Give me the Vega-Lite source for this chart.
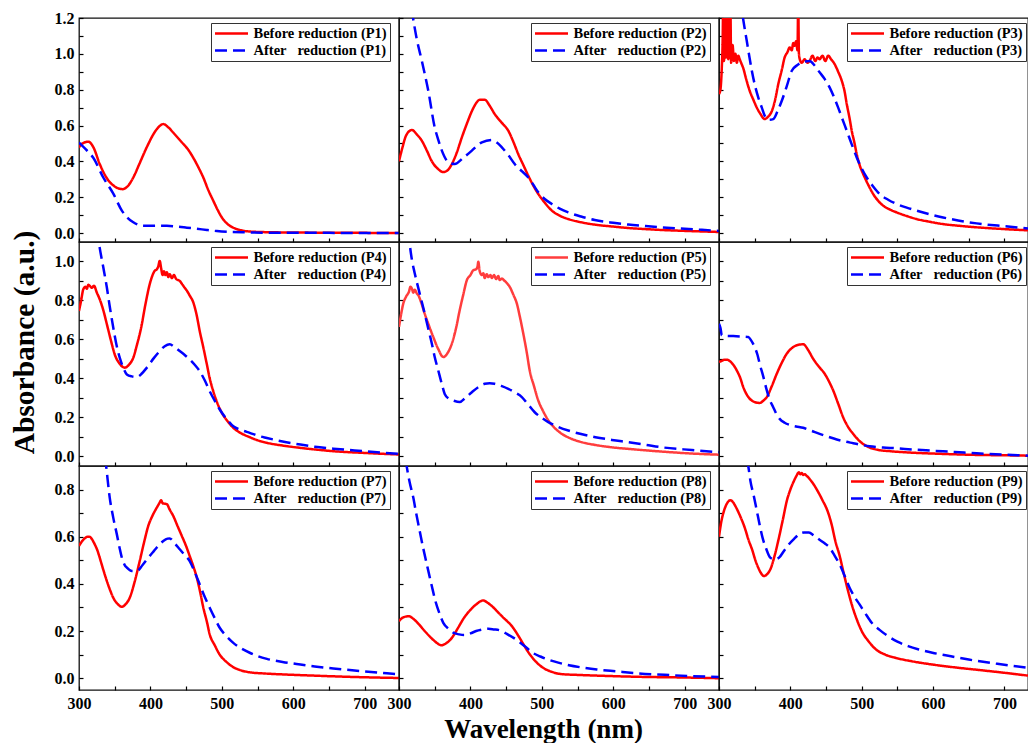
{
  "$schema": "https://vega.github.io/schema/vega-lite/v6.json",
  "padding": {"left": 8, "top": 9, "right": 0, "bottom": 0},
  "background": "white",
  "config": {
    "font": "Liberation Serif",
    "view": {"stroke": "#111", "strokeWidth": 1.3},
    "axis": {
      "grid": false, "domain": false, "tickSize": -4, "tickColor": "#000", "tickWidth": 1.2,
      "labelFont": "Liberation Serif", "labelFontSize": 16, "labelFontWeight": "bold", "labelColor": "#000",
      "labelPadding": 9, "labelOverlap": false, "labelFlush": false,
      "titleFont": "Liberation Serif", "titleFontSize": 27, "titleFontWeight": "bold", "titleColor": "#000"
    },
    "legend": {
      "labelFont": "Liberation Serif", "labelFontSize": 14.5, "labelFontWeight": "bold", "labelColor": "#000",
      "strokeColor": "#333", "fillColor": "#fff", "padding": 2.5, "rowPadding": 1, "clipHeight": 16,
      "symbolType": "stroke", "symbolSize": 1089, "symbolStrokeWidth": 2.5, "labelOffset": 4, "cornerRadius": 0
    }
  },
  "datasets": {
    "p1": [
      {"series":"Before","nm":300,"abs":0.478},{"series":"Before","nm":305,"abs":0.50},{"series":"Before","nm":313,"abs":0.51},{"series":"Before","nm":320,"abs":0.48},{"series":"Before","nm":329,"abs":0.385},{"series":"Before","nm":340,"abs":0.30},{"series":"Before","nm":350,"abs":0.26},{"series":"Before","nm":361,"abs":0.245},{"series":"Before","nm":370,"abs":0.27},{"series":"Before","nm":376,"abs":0.31},{"series":"Before","nm":385,"abs":0.39},{"series":"Before","nm":395,"abs":0.48},{"series":"Before","nm":409,"abs":0.58},{"series":"Before","nm":418,"abs":0.608},{"series":"Before","nm":425,"abs":0.59},{"series":"Before","nm":432,"abs":0.56},{"series":"Before","nm":444,"abs":0.506},{"series":"Before","nm":452,"abs":0.47},{"series":"Before","nm":460,"abs":0.42},{"series":"Before","nm":468,"abs":0.36},{"series":"Before","nm":474,"abs":0.31},{"series":"Before","nm":481,"abs":0.24},{"series":"Before","nm":488,"abs":0.18},{"series":"Before","nm":494,"abs":0.13},{"series":"Before","nm":500,"abs":0.087},{"series":"Before","nm":508,"abs":0.05},{"series":"Before","nm":516,"abs":0.03},{"series":"Before","nm":525,"abs":0.017},{"series":"Before","nm":535,"abs":0.01},{"series":"Before","nm":560,"abs":0.005},{"series":"Before","nm":600,"abs":0.003},{"series":"Before","nm":700,"abs":0.001},{"series":"Before","nm":748,"abs":0.0},
      {"series":"After","nm":300,"abs":0.505},{"series":"After","nm":310,"abs":0.465},{"series":"After","nm":320,"abs":0.42},{"series":"After","nm":334,"abs":0.31},{"series":"After","nm":348,"abs":0.22},{"series":"After","nm":360,"abs":0.125},{"series":"After","nm":368,"abs":0.085},{"series":"After","nm":376,"abs":0.06},{"series":"After","nm":390,"abs":0.04},{"series":"After","nm":405,"abs":0.04},{"series":"After","nm":423,"abs":0.04},{"series":"After","nm":440,"abs":0.035},{"series":"After","nm":451,"abs":0.03},{"series":"After","nm":465,"abs":0.024},{"series":"After","nm":479,"abs":0.017},{"series":"After","nm":493,"abs":0.011},{"series":"After","nm":507,"abs":0.007},{"series":"After","nm":530,"abs":0.004},{"series":"After","nm":560,"abs":0.002},{"series":"After","nm":650,"abs":0.001},{"series":"After","nm":748,"abs":0.0}
    ],
    "p2": [
      {"series":"Before","nm":300,"abs":0.40},{"series":"Before","nm":305,"abs":0.48},{"series":"Before","nm":310,"abs":0.545},{"series":"Before","nm":318,"abs":0.575},{"series":"Before","nm":325,"abs":0.55},{"series":"Before","nm":332,"abs":0.515},{"series":"Before","nm":339,"abs":0.46},{"series":"Before","nm":346,"abs":0.40},{"series":"Before","nm":354,"abs":0.36},{"series":"Before","nm":362,"abs":0.34},{"series":"Before","nm":368,"abs":0.35},{"series":"Before","nm":374,"abs":0.385},{"series":"Before","nm":381,"abs":0.45},{"series":"Before","nm":388,"abs":0.534},{"series":"Before","nm":395,"abs":0.61},{"series":"Before","nm":402,"abs":0.68},{"series":"Before","nm":408,"abs":0.725},{"series":"Before","nm":413,"abs":0.744},{"series":"Before","nm":420,"abs":0.744},{"series":"Before","nm":427,"abs":0.71},{"series":"Before","nm":434,"abs":0.664},{"series":"Before","nm":444,"abs":0.615},{"series":"Before","nm":453,"abs":0.571},{"series":"Before","nm":460,"abs":0.51},{"series":"Before","nm":467,"abs":0.44},{"series":"Before","nm":474,"abs":0.38},{"series":"Before","nm":481,"abs":0.32},{"series":"Before","nm":488,"abs":0.265},{"series":"Before","nm":495,"abs":0.218},{"series":"Before","nm":504,"abs":0.17},{"series":"Before","nm":514,"abs":0.125},{"series":"Before","nm":525,"abs":0.097},{"series":"Before","nm":537,"abs":0.078},{"series":"Before","nm":555,"abs":0.06},{"series":"Before","nm":574,"abs":0.047},{"series":"Before","nm":600,"abs":0.036},{"series":"Before","nm":621,"abs":0.028},{"series":"Before","nm":645,"abs":0.022},{"series":"Before","nm":668,"abs":0.017},{"series":"Before","nm":700,"abs":0.012},{"series":"Before","nm":748,"abs":0.006},
      {"series":"After","nm":300,"abs":1.75},{"series":"After","nm":310,"abs":1.45},{"series":"After","nm":318,"abs":1.24},{"series":"After","nm":325,"abs":1.08},{"series":"After","nm":332,"abs":0.96},{"series":"After","nm":341,"abs":0.794},{"series":"After","nm":350,"abs":0.59},{"series":"After","nm":355,"abs":0.52},{"series":"After","nm":360,"abs":0.46},{"series":"After","nm":367,"abs":0.404},{"series":"After","nm":372,"abs":0.39},{"series":"After","nm":378,"abs":0.385},{"series":"After","nm":390,"abs":0.42},{"series":"After","nm":402,"abs":0.46},{"series":"After","nm":410,"abs":0.49},{"series":"After","nm":416,"abs":0.506},{"series":"After","nm":430,"abs":0.519},{"series":"After","nm":437,"abs":0.505},{"series":"After","nm":444,"abs":0.478},{"series":"After","nm":453,"abs":0.435},{"series":"After","nm":462,"abs":0.385},{"series":"After","nm":472,"abs":0.345},{"series":"After","nm":481,"abs":0.31},{"series":"After","nm":488,"abs":0.27},{"series":"After","nm":495,"abs":0.227},{"series":"After","nm":504,"abs":0.19},{"series":"After","nm":514,"abs":0.162},{"series":"After","nm":525,"abs":0.136},{"series":"After","nm":537,"abs":0.115},{"series":"After","nm":555,"abs":0.092},{"series":"After","nm":574,"abs":0.073},{"series":"After","nm":600,"abs":0.057},{"series":"After","nm":621,"abs":0.047},{"series":"After","nm":645,"abs":0.039},{"series":"After","nm":668,"abs":0.032},{"series":"After","nm":700,"abs":0.024},{"series":"After","nm":748,"abs":0.012}
    ],
    "p3": [
      {"series":"Before","nm":300,"abs":0.776},{"series":"Before","nm":302,"abs":0.80},{"series":"Before","nm":304,"abs":0.93},{"series":"Before","nm":305,"abs":1.05},{"series":"Before","nm":306,"abs":1.30},{"series":"Before","nm":307,"abs":0.96},{"series":"Before","nm":308,"abs":1.1},{"series":"Before","nm":309,"abs":1.30},{"series":"Before","nm":310,"abs":0.98},{"series":"Before","nm":311,"abs":1.02},{"series":"Before","nm":312,"abs":1.30},{"series":"Before","nm":313,"abs":0.97},{"series":"Before","nm":314,"abs":1.0},{"series":"Before","nm":316,"abs":1.25},{"series":"Before","nm":317,"abs":0.95},{"series":"Before","nm":319,"abs":1.05},{"series":"Before","nm":321,"abs":0.96},{"series":"Before","nm":323,"abs":1.0},{"series":"Before","nm":325,"abs":0.95},{"series":"Before","nm":327,"abs":0.99},{"series":"Before","nm":329,"abs":0.97},{"series":"Before","nm":331,"abs":0.95},{"series":"Before","nm":334,"abs":0.92},{"series":"Before","nm":338,"abs":0.86},{"series":"Before","nm":343,"abs":0.794},{"series":"Before","nm":348,"abs":0.745},{"series":"Before","nm":353,"abs":0.70},{"series":"Before","nm":358,"abs":0.665},{"series":"Before","nm":364,"abs":0.636},{"series":"Before","nm":369,"abs":0.65},{"series":"Before","nm":374,"abs":0.68},{"series":"Before","nm":379,"abs":0.75},{"series":"Before","nm":383,"abs":0.83},{"series":"Before","nm":388,"abs":0.91},{"series":"Before","nm":392,"abs":0.98},{"series":"Before","nm":396,"abs":1.01},{"series":"Before","nm":399,"abs":1.036},{"series":"Before","nm":402,"abs":1.02},{"series":"Before","nm":404,"abs":1.06},{"series":"Before","nm":406,"abs":1.045},{"series":"Before","nm":408,"abs":1.07},{"series":"Before","nm":410,"abs":1.02},{"series":"Before","nm":411,"abs":1.30},{"series":"Before","nm":412,"abs":1.0},{"series":"Before","nm":414,"abs":0.96},{"series":"Before","nm":416,"abs":0.95},{"series":"Before","nm":420,"abs":0.97},{"series":"Before","nm":424,"abs":0.95},{"series":"Before","nm":427,"abs":0.96},{"series":"Before","nm":431,"abs":0.99},{"series":"Before","nm":435,"abs":0.96},{"series":"Before","nm":438,"abs":0.98},{"series":"Before","nm":441,"abs":0.97},{"series":"Before","nm":445,"abs":0.99},{"series":"Before","nm":449,"abs":0.96},{"series":"Before","nm":453,"abs":0.99},{"series":"Before","nm":457,"abs":0.97},{"series":"Before","nm":462,"abs":0.943},{"series":"Before","nm":467,"abs":0.90},{"series":"Before","nm":472,"abs":0.85},{"series":"Before","nm":476,"abs":0.79},{"series":"Before","nm":479,"abs":0.72},{"series":"Before","nm":483,"abs":0.64},{"series":"Before","nm":486,"abs":0.571},{"series":"Before","nm":490,"abs":0.50},{"series":"Before","nm":493,"abs":0.44},{"series":"Before","nm":497,"abs":0.38},{"series":"Before","nm":502,"abs":0.33},{"series":"Before","nm":509,"abs":0.27},{"series":"Before","nm":516,"abs":0.218},{"series":"Before","nm":523,"abs":0.18},{"series":"Before","nm":530,"abs":0.153},{"series":"Before","nm":540,"abs":0.13},{"series":"Before","nm":549,"abs":0.115},{"series":"Before","nm":563,"abs":0.095},{"series":"Before","nm":577,"abs":0.078},{"series":"Before","nm":595,"abs":0.063},{"series":"Before","nm":614,"abs":0.05},{"series":"Before","nm":635,"abs":0.041},{"series":"Before","nm":661,"abs":0.032},{"series":"Before","nm":700,"abs":0.022},{"series":"Before","nm":733,"abs":0.015},
      {"series":"After","nm":300,"abs":2.2},{"series":"After","nm":315,"abs":1.7},{"series":"After","nm":325,"abs":1.45},{"series":"After","nm":334,"abs":1.19},{"series":"After","nm":339,"abs":1.07},{"series":"After","nm":346,"abs":0.906},{"series":"After","nm":350,"abs":0.83},{"series":"After","nm":355,"abs":0.757},{"series":"After","nm":360,"abs":0.70},{"series":"After","nm":364,"abs":0.655},{"series":"After","nm":370,"abs":0.632},{"series":"After","nm":376,"abs":0.636},{"series":"After","nm":382,"abs":0.68},{"series":"After","nm":388,"abs":0.738},{"series":"After","nm":395,"abs":0.82},{"series":"After","nm":402,"abs":0.906},{"series":"After","nm":409,"abs":0.935},{"series":"After","nm":416,"abs":0.952},{"series":"After","nm":427,"abs":0.96},{"series":"After","nm":434,"abs":0.935},{"series":"After","nm":441,"abs":0.897},{"series":"After","nm":448,"abs":0.86},{"series":"After","nm":455,"abs":0.813},{"series":"After","nm":461,"abs":0.76},{"series":"After","nm":467,"abs":0.70},{"series":"After","nm":473,"abs":0.635},{"series":"After","nm":479,"abs":0.571},{"series":"After","nm":486,"abs":0.495},{"series":"After","nm":493,"abs":0.422},{"series":"After","nm":500,"abs":0.36},{"series":"After","nm":507,"abs":0.31},{"series":"After","nm":516,"abs":0.26},{"series":"After","nm":525,"abs":0.218},{"series":"After","nm":537,"abs":0.186},{"series":"After","nm":549,"abs":0.162},{"series":"After","nm":563,"abs":0.142},{"series":"After","nm":577,"abs":0.125},{"series":"After","nm":595,"abs":0.105},{"series":"After","nm":614,"abs":0.087},{"series":"After","nm":635,"abs":0.07},{"series":"After","nm":661,"abs":0.054},{"series":"After","nm":700,"abs":0.038},{"series":"After","nm":733,"abs":0.026}
    ],
    "p4": [
      {"series":"Before","nm":300,"abs":0.746},{"series":"Before","nm":303,"abs":0.80},{"series":"Before","nm":306,"abs":0.857},{"series":"Before","nm":309,"abs":0.87},{"series":"Before","nm":311,"abs":0.86},{"series":"Before","nm":313,"abs":0.88},{"series":"Before","nm":315,"abs":0.875},{"series":"Before","nm":318,"abs":0.865},{"series":"Before","nm":321,"abs":0.875},{"series":"Before","nm":325,"abs":0.84},{"series":"Before","nm":329,"abs":0.806},{"series":"Before","nm":334,"abs":0.75},{"series":"Before","nm":339,"abs":0.678},{"series":"Before","nm":345,"abs":0.59},{"series":"Before","nm":350,"abs":0.523},{"series":"Before","nm":357,"abs":0.475},{"series":"Before","nm":364,"abs":0.455},{"series":"Before","nm":370,"abs":0.47},{"series":"Before","nm":376,"abs":0.506},{"series":"Before","nm":381,"abs":0.57},{"series":"Before","nm":387,"abs":0.66},{"series":"Before","nm":393,"abs":0.78},{"series":"Before","nm":399,"abs":0.883},{"series":"Before","nm":403,"abs":0.93},{"series":"Before","nm":406,"abs":0.952},{"series":"Before","nm":409,"abs":0.96},{"series":"Before","nm":411,"abs":0.975},{"series":"Before","nm":413,"abs":1.003},{"series":"Before","nm":415,"abs":0.965},{"series":"Before","nm":417,"abs":0.93},{"series":"Before","nm":419,"abs":0.95},{"series":"Before","nm":421,"abs":0.93},{"series":"Before","nm":423,"abs":0.945},{"series":"Before","nm":425,"abs":0.92},{"series":"Before","nm":427,"abs":0.935},{"series":"Before","nm":430,"abs":0.915},{"series":"Before","nm":433,"abs":0.93},{"series":"Before","nm":436,"abs":0.91},{"series":"Before","nm":441,"abs":0.90},{"series":"Before","nm":446,"abs":0.875},{"series":"Before","nm":451,"abs":0.85},{"series":"Before","nm":455,"abs":0.825},{"series":"Before","nm":460,"abs":0.79},{"series":"Before","nm":465,"abs":0.72},{"series":"Before","nm":469,"abs":0.643},{"series":"Before","nm":474,"abs":0.56},{"series":"Before","nm":479,"abs":0.472},{"series":"Before","nm":483,"abs":0.40},{"series":"Before","nm":488,"abs":0.334},{"series":"Before","nm":494,"abs":0.27},{"series":"Before","nm":500,"abs":0.223},{"series":"Before","nm":508,"abs":0.18},{"series":"Before","nm":516,"abs":0.146},{"series":"Before","nm":527,"abs":0.118},{"series":"Before","nm":539,"abs":0.098},{"series":"Before","nm":550,"abs":0.082},{"series":"Before","nm":563,"abs":0.069},{"series":"Before","nm":585,"abs":0.055},{"series":"Before","nm":610,"abs":0.043},{"series":"Before","nm":630,"abs":0.035},{"series":"Before","nm":656,"abs":0.026},{"series":"Before","nm":700,"abs":0.017},{"series":"Before","nm":748,"abs":0.009},
      {"series":"After","nm":300,"abs":1.9},{"series":"After","nm":315,"abs":1.45},{"series":"After","nm":322,"abs":1.25},{"series":"After","nm":329,"abs":1.07},{"series":"After","nm":334,"abs":0.97},{"series":"After","nm":339,"abs":0.866},{"series":"After","nm":343,"abs":0.77},{"series":"After","nm":348,"abs":0.66},{"series":"After","nm":352,"abs":0.58},{"series":"After","nm":357,"abs":0.506},{"series":"After","nm":362,"abs":0.455},{"series":"After","nm":367,"abs":0.42},{"series":"After","nm":374,"abs":0.41},{"series":"After","nm":381,"abs":0.407},{"series":"After","nm":388,"abs":0.425},{"series":"After","nm":395,"abs":0.455},{"series":"After","nm":405,"abs":0.505},{"series":"After","nm":413,"abs":0.54},{"series":"After","nm":420,"abs":0.565},{"series":"After","nm":427,"abs":0.575},{"series":"After","nm":434,"abs":0.56},{"series":"After","nm":441,"abs":0.54},{"series":"After","nm":448,"abs":0.52},{"series":"After","nm":455,"abs":0.497},{"series":"After","nm":462,"abs":0.47},{"series":"After","nm":469,"abs":0.437},{"series":"After","nm":476,"abs":0.39},{"series":"After","nm":483,"abs":0.334},{"series":"After","nm":490,"abs":0.285},{"series":"After","nm":497,"abs":0.24},{"series":"After","nm":507,"abs":0.19},{"series":"After","nm":516,"abs":0.154},{"series":"After","nm":527,"abs":0.135},{"series":"After","nm":539,"abs":0.12},{"series":"After","nm":550,"abs":0.106},{"series":"After","nm":563,"abs":0.094},{"series":"After","nm":585,"abs":0.076},{"series":"After","nm":610,"abs":0.06},{"series":"After","nm":630,"abs":0.049},{"series":"After","nm":656,"abs":0.039},{"series":"After","nm":700,"abs":0.026},{"series":"After","nm":748,"abs":0.012}
    ],
    "p5": [
      {"series":"Before","nm":300,"abs":0.664},{"series":"Before","nm":303,"abs":0.73},{"series":"Before","nm":306,"abs":0.784},{"series":"Before","nm":310,"abs":0.82},{"series":"Before","nm":314,"abs":0.845},{"series":"Before","nm":316,"abs":0.87},{"series":"Before","nm":318,"abs":0.861},{"series":"Before","nm":320,"abs":0.84},{"series":"Before","nm":322,"abs":0.855},{"series":"Before","nm":325,"abs":0.835},{"series":"Before","nm":327,"abs":0.827},{"series":"Before","nm":331,"abs":0.79},{"series":"Before","nm":336,"abs":0.732},{"series":"Before","nm":342,"abs":0.67},{"series":"Before","nm":348,"abs":0.612},{"series":"Before","nm":355,"abs":0.55},{"series":"Before","nm":362,"abs":0.509},{"series":"Before","nm":368,"abs":0.53},{"series":"Before","nm":374,"abs":0.578},{"series":"Before","nm":380,"abs":0.66},{"series":"Before","nm":385,"abs":0.75},{"series":"Before","nm":390,"abs":0.83},{"series":"Before","nm":395,"abs":0.904},{"series":"Before","nm":400,"abs":0.93},{"series":"Before","nm":404,"abs":0.955},{"series":"Before","nm":408,"abs":0.96},{"series":"Before","nm":410,"abs":0.975},{"series":"Before","nm":411,"abs":0.998},{"series":"Before","nm":413,"abs":0.95},{"series":"Before","nm":416,"abs":0.93},{"series":"Before","nm":418,"abs":0.94},{"series":"Before","nm":420,"abs":0.915},{"series":"Before","nm":423,"abs":0.935},{"series":"Before","nm":425,"abs":0.92},{"series":"Before","nm":428,"abs":0.93},{"series":"Before","nm":430,"abs":0.915},{"series":"Before","nm":433,"abs":0.93},{"series":"Before","nm":436,"abs":0.91},{"series":"Before","nm":439,"abs":0.925},{"series":"Before","nm":441,"abs":0.905},{"series":"Before","nm":444,"abs":0.912},{"series":"Before","nm":448,"abs":0.90},{"series":"Before","nm":452,"abs":0.885},{"series":"Before","nm":455,"abs":0.87},{"series":"Before","nm":460,"abs":0.83},{"series":"Before","nm":465,"abs":0.784},{"series":"Before","nm":469,"abs":0.72},{"series":"Before","nm":474,"abs":0.63},{"series":"Before","nm":479,"abs":0.53},{"series":"Before","nm":483,"abs":0.44},{"series":"Before","nm":489,"abs":0.36},{"series":"Before","nm":495,"abs":0.286},{"series":"Before","nm":502,"abs":0.23},{"series":"Before","nm":509,"abs":0.184},{"series":"Before","nm":518,"abs":0.145},{"series":"Before","nm":528,"abs":0.115},{"series":"Before","nm":540,"abs":0.092},{"series":"Before","nm":556,"abs":0.072},{"series":"Before","nm":575,"abs":0.058},{"series":"Before","nm":598,"abs":0.046},{"series":"Before","nm":630,"abs":0.035},{"series":"Before","nm":668,"abs":0.024},{"series":"Before","nm":710,"abs":0.014},{"series":"Before","nm":748,"abs":0.008},
      {"series":"After","nm":300,"abs":1.9},{"series":"After","nm":310,"abs":1.3},{"series":"After","nm":315,"abs":1.09},{"series":"After","nm":318,"abs":1.01},{"series":"After","nm":322,"abs":0.94},{"series":"After","nm":329,"abs":0.835},{"series":"After","nm":336,"abs":0.732},{"series":"After","nm":341,"abs":0.655},{"series":"After","nm":346,"abs":0.578},{"series":"After","nm":350,"abs":0.51},{"series":"After","nm":355,"abs":0.44},{"series":"After","nm":360,"abs":0.37},{"series":"After","nm":364,"abs":0.32},{"series":"After","nm":370,"abs":0.295},{"series":"After","nm":376,"abs":0.286},{"series":"After","nm":385,"abs":0.278},{"series":"After","nm":393,"abs":0.30},{"series":"After","nm":402,"abs":0.329},{"series":"After","nm":411,"abs":0.355},{"series":"After","nm":420,"abs":0.372},{"series":"After","nm":427,"abs":0.375},{"series":"After","nm":434,"abs":0.372},{"series":"After","nm":444,"abs":0.36},{"series":"After","nm":453,"abs":0.346},{"series":"After","nm":462,"abs":0.328},{"series":"After","nm":472,"abs":0.304},{"series":"After","nm":481,"abs":0.265},{"series":"After","nm":490,"abs":0.226},{"series":"After","nm":500,"abs":0.197},{"series":"After","nm":509,"abs":0.175},{"series":"After","nm":522,"abs":0.152},{"series":"After","nm":537,"abs":0.132},{"series":"After","nm":555,"abs":0.114},{"series":"After","nm":575,"abs":0.098},{"series":"After","nm":598,"abs":0.084},{"series":"After","nm":621,"abs":0.072},{"series":"After","nm":645,"abs":0.059},{"series":"After","nm":668,"abs":0.046},{"series":"After","nm":710,"abs":0.032},{"series":"After","nm":748,"abs":0.021}
    ],
    "p6": [
      {"series":"Before","nm":300,"abs":0.484},{"series":"Before","nm":304,"abs":0.49},{"series":"Before","nm":308,"abs":0.496},{"series":"Before","nm":312,"abs":0.495},{"series":"Before","nm":315,"abs":0.489},{"series":"Before","nm":320,"abs":0.47},{"series":"Before","nm":325,"abs":0.44},{"series":"Before","nm":330,"abs":0.40},{"series":"Before","nm":334,"abs":0.355},{"series":"Before","nm":340,"abs":0.31},{"series":"Before","nm":346,"abs":0.286},{"series":"Before","nm":352,"abs":0.276},{"series":"Before","nm":357,"abs":0.274},{"series":"Before","nm":362,"abs":0.285},{"series":"Before","nm":367,"abs":0.304},{"series":"Before","nm":374,"abs":0.36},{"series":"Before","nm":381,"abs":0.424},{"series":"Before","nm":388,"abs":0.48},{"series":"Before","nm":395,"abs":0.527},{"series":"Before","nm":402,"abs":0.555},{"series":"Before","nm":409,"abs":0.57},{"series":"Before","nm":418,"abs":0.575},{"series":"Before","nm":425,"abs":0.545},{"series":"Before","nm":432,"abs":0.50},{"series":"Before","nm":440,"abs":0.46},{"series":"Before","nm":448,"abs":0.424},{"series":"Before","nm":454,"abs":0.385},{"series":"Before","nm":460,"abs":0.338},{"series":"Before","nm":467,"abs":0.27},{"series":"Before","nm":474,"abs":0.20},{"series":"Before","nm":481,"abs":0.15},{"series":"Before","nm":488,"abs":0.115},{"series":"Before","nm":495,"abs":0.085},{"series":"Before","nm":502,"abs":0.063},{"series":"Before","nm":511,"abs":0.045},{"series":"Before","nm":521,"abs":0.034},{"series":"Before","nm":540,"abs":0.026},{"series":"Before","nm":558,"abs":0.021},{"series":"Before","nm":585,"abs":0.016},{"series":"Before","nm":614,"abs":0.012},{"series":"Before","nm":660,"abs":0.007},{"series":"Before","nm":700,"abs":0.005},{"series":"Before","nm":733,"abs":0.003},
      {"series":"After","nm":300,"abs":0.68},{"series":"After","nm":302,"abs":0.66},{"series":"After","nm":304,"abs":0.62},{"series":"After","nm":310,"abs":0.618},{"series":"After","nm":320,"abs":0.617},{"series":"After","nm":330,"abs":0.615},{"series":"After","nm":341,"abs":0.612},{"series":"After","nm":345,"abs":0.595},{"series":"After","nm":350,"abs":0.56},{"series":"After","nm":354,"abs":0.52},{"series":"After","nm":357,"abs":0.475},{"series":"After","nm":362,"abs":0.41},{"series":"After","nm":367,"abs":0.338},{"series":"After","nm":371,"abs":0.29},{"series":"After","nm":376,"abs":0.252},{"series":"After","nm":380,"abs":0.22},{"series":"After","nm":385,"abs":0.192},{"series":"After","nm":392,"abs":0.172},{"series":"After","nm":399,"abs":0.161},{"series":"After","nm":408,"abs":0.153},{"series":"After","nm":418,"abs":0.146},{"series":"After","nm":430,"abs":0.13},{"series":"After","nm":441,"abs":0.115},{"series":"After","nm":453,"abs":0.1},{"series":"After","nm":465,"abs":0.086},{"series":"After","nm":476,"abs":0.076},{"series":"After","nm":488,"abs":0.067},{"series":"After","nm":500,"abs":0.058},{"series":"After","nm":511,"abs":0.051},{"series":"After","nm":530,"abs":0.045},{"series":"After","nm":549,"abs":0.041},{"series":"After","nm":570,"abs":0.035},{"series":"After","nm":596,"abs":0.029},{"series":"After","nm":630,"abs":0.022},{"series":"After","nm":661,"abs":0.015},{"series":"After","nm":700,"abs":0.008},{"series":"After","nm":733,"abs":0.003}
    ],
    "p7": [
      {"series":"Before","nm":300,"abs":0.561},{"series":"Before","nm":304,"abs":0.58},{"series":"Before","nm":308,"abs":0.593},{"series":"Before","nm":312,"abs":0.60},{"series":"Before","nm":315,"abs":0.60},{"series":"Before","nm":318,"abs":0.59},{"series":"Before","nm":322,"abs":0.568},{"series":"Before","nm":326,"abs":0.54},{"series":"Before","nm":329,"abs":0.511},{"series":"Before","nm":334,"abs":0.46},{"series":"Before","nm":339,"abs":0.412},{"series":"Before","nm":344,"abs":0.37},{"series":"Before","nm":348,"abs":0.341},{"series":"Before","nm":354,"abs":0.315},{"series":"Before","nm":360,"abs":0.303},{"series":"Before","nm":365,"abs":0.313},{"series":"Before","nm":371,"abs":0.341},{"series":"Before","nm":378,"abs":0.41},{"series":"Before","nm":385,"abs":0.497},{"series":"Before","nm":391,"abs":0.575},{"series":"Before","nm":397,"abs":0.646},{"series":"Before","nm":403,"abs":0.69},{"series":"Before","nm":409,"abs":0.724},{"series":"Before","nm":413,"abs":0.745},{"series":"Before","nm":415,"abs":0.755},{"series":"Before","nm":417,"abs":0.742},{"series":"Before","nm":420,"abs":0.74},{"series":"Before","nm":423,"abs":0.738},{"series":"Before","nm":427,"abs":0.715},{"series":"Before","nm":432,"abs":0.688},{"series":"Before","nm":438,"abs":0.645},{"series":"Before","nm":444,"abs":0.603},{"series":"Before","nm":450,"abs":0.56},{"series":"Before","nm":455,"abs":0.518},{"series":"Before","nm":460,"abs":0.475},{"series":"Before","nm":465,"abs":0.426},{"series":"Before","nm":470,"abs":0.36},{"series":"Before","nm":474,"abs":0.30},{"series":"Before","nm":479,"abs":0.24},{"series":"Before","nm":483,"abs":0.186},{"series":"Before","nm":490,"abs":0.14},{"series":"Before","nm":497,"abs":0.10},{"series":"Before","nm":506,"abs":0.07},{"series":"Before","nm":516,"abs":0.047},{"series":"Before","nm":527,"abs":0.033},{"series":"Before","nm":539,"abs":0.025},{"series":"Before","nm":560,"abs":0.02},{"series":"Before","nm":586,"abs":0.016},{"series":"Before","nm":620,"abs":0.012},{"series":"Before","nm":656,"abs":0.008},{"series":"Before","nm":700,"abs":0.004},{"series":"Before","nm":748,"abs":0.001},
      {"series":"After","nm":300,"abs":2.0},{"series":"After","nm":320,"abs":1.35},{"series":"After","nm":330,"abs":1.08},{"series":"After","nm":338,"abs":0.9},{"series":"After","nm":343,"abs":0.766},{"series":"After","nm":348,"abs":0.68},{"series":"After","nm":353,"abs":0.61},{"series":"After","nm":357,"abs":0.55},{"series":"After","nm":360,"abs":0.511},{"series":"After","nm":364,"abs":0.48},{"series":"After","nm":367,"abs":0.469},{"series":"After","nm":374,"abs":0.455},{"series":"After","nm":381,"abs":0.455},{"series":"After","nm":389,"abs":0.48},{"series":"After","nm":397,"abs":0.511},{"series":"After","nm":405,"abs":0.54},{"series":"After","nm":412,"abs":0.565},{"series":"After","nm":418,"abs":0.582},{"series":"After","nm":424,"abs":0.592},{"series":"After","nm":427,"abs":0.593},{"series":"After","nm":434,"abs":0.572},{"series":"After","nm":441,"abs":0.547},{"series":"After","nm":448,"abs":0.522},{"series":"After","nm":455,"abs":0.497},{"series":"After","nm":462,"abs":0.45},{"series":"After","nm":469,"abs":0.398},{"series":"After","nm":476,"abs":0.345},{"series":"After","nm":483,"abs":0.299},{"series":"After","nm":490,"abs":0.255},{"series":"After","nm":497,"abs":0.214},{"series":"After","nm":506,"abs":0.18},{"series":"After","nm":516,"abs":0.15},{"series":"After","nm":527,"abs":0.127},{"series":"After","nm":539,"abs":0.108},{"series":"After","nm":550,"abs":0.094},{"series":"After","nm":563,"abs":0.082},{"series":"After","nm":585,"abs":0.069},{"series":"After","nm":610,"abs":0.058},{"series":"After","nm":630,"abs":0.05},{"series":"After","nm":656,"abs":0.041},{"series":"After","nm":700,"abs":0.029},{"series":"After","nm":748,"abs":0.016}
    ],
    "p8": [
      {"series":"Before","nm":300,"abs":0.242},{"series":"Before","nm":306,"abs":0.258},{"series":"Before","nm":314,"abs":0.263},{"series":"Before","nm":320,"abs":0.252},{"series":"Before","nm":328,"abs":0.228},{"series":"Before","nm":336,"abs":0.2},{"series":"Before","nm":345,"abs":0.171},{"series":"Before","nm":352,"abs":0.152},{"series":"Before","nm":359,"abs":0.14},{"series":"Before","nm":366,"abs":0.148},{"series":"Before","nm":374,"abs":0.171},{"series":"Before","nm":382,"abs":0.21},{"series":"Before","nm":391,"abs":0.256},{"series":"Before","nm":400,"abs":0.29},{"series":"Before","nm":408,"abs":0.313},{"series":"Before","nm":418,"abs":0.33},{"series":"Before","nm":424,"abs":0.32},{"series":"Before","nm":430,"abs":0.306},{"series":"Before","nm":437,"abs":0.285},{"series":"Before","nm":444,"abs":0.263},{"series":"Before","nm":451,"abs":0.243},{"series":"Before","nm":458,"abs":0.221},{"series":"Before","nm":465,"abs":0.19},{"series":"Before","nm":473,"abs":0.15},{"series":"Before","nm":480,"abs":0.115},{"series":"Before","nm":487,"abs":0.086},{"series":"Before","nm":495,"abs":0.06},{"series":"Before","nm":504,"abs":0.04},{"series":"Before","nm":515,"abs":0.026},{"series":"Before","nm":526,"abs":0.018},{"series":"Before","nm":550,"abs":0.014},{"series":"Before","nm":577,"abs":0.011},{"series":"Before","nm":634,"abs":0.006},{"series":"Before","nm":700,"abs":0.003},{"series":"Before","nm":748,"abs":0.0},
      {"series":"After","nm":300,"abs":1.15},{"series":"After","nm":305,"abs":1.02},{"series":"After","nm":311,"abs":0.894},{"series":"After","nm":315,"abs":0.83},{"series":"After","nm":320,"abs":0.766},{"series":"After","nm":324,"abs":0.70},{"series":"After","nm":328,"abs":0.639},{"series":"After","nm":334,"abs":0.55},{"series":"After","nm":340,"abs":0.469},{"series":"After","nm":346,"abs":0.39},{"series":"After","nm":351,"abs":0.327},{"series":"After","nm":356,"abs":0.28},{"series":"After","nm":362,"abs":0.235},{"series":"After","nm":369,"abs":0.21},{"series":"After","nm":376,"abs":0.193},{"series":"After","nm":384,"abs":0.186},{"series":"After","nm":391,"abs":0.183},{"series":"After","nm":400,"abs":0.19},{"series":"After","nm":408,"abs":0.20},{"series":"After","nm":416,"abs":0.206},{"series":"After","nm":425,"abs":0.21},{"series":"After","nm":433,"abs":0.207},{"series":"After","nm":441,"abs":0.203},{"series":"After","nm":452,"abs":0.186},{"series":"After","nm":464,"abs":0.164},{"series":"After","nm":476,"abs":0.136},{"series":"After","nm":487,"abs":0.108},{"series":"After","nm":498,"abs":0.092},{"series":"After","nm":509,"abs":0.079},{"series":"After","nm":523,"abs":0.066},{"series":"After","nm":538,"abs":0.055},{"series":"After","nm":555,"abs":0.046},{"series":"After","nm":577,"abs":0.037},{"series":"After","nm":605,"abs":0.029},{"series":"After","nm":634,"abs":0.021},{"series":"After","nm":680,"abs":0.013},{"series":"After","nm":748,"abs":0.005}
    ],
    "p9": [
      {"series":"Before","nm":300,"abs":0.60},{"series":"Before","nm":303,"abs":0.66},{"series":"Before","nm":307,"abs":0.71},{"series":"Before","nm":312,"abs":0.745},{"series":"Before","nm":316,"abs":0.755},{"series":"Before","nm":320,"abs":0.745},{"series":"Before","nm":324,"abs":0.724},{"series":"Before","nm":330,"abs":0.685},{"series":"Before","nm":336,"abs":0.639},{"series":"Before","nm":341,"abs":0.59},{"series":"Before","nm":347,"abs":0.54},{"series":"Before","nm":351,"abs":0.50},{"series":"Before","nm":355,"abs":0.469},{"series":"Before","nm":359,"abs":0.445},{"series":"Before","nm":363,"abs":0.433},{"series":"Before","nm":367,"abs":0.44},{"series":"Before","nm":372,"abs":0.462},{"series":"Before","nm":378,"abs":0.52},{"series":"Before","nm":384,"abs":0.596},{"series":"Before","nm":390,"abs":0.68},{"series":"Before","nm":395,"abs":0.752},{"series":"Before","nm":400,"abs":0.80},{"series":"Before","nm":404,"abs":0.83},{"series":"Before","nm":408,"abs":0.855},{"series":"Before","nm":412,"abs":0.873},{"series":"Before","nm":414,"abs":0.865},{"series":"Before","nm":416,"abs":0.87},{"series":"Before","nm":418,"abs":0.862},{"series":"Before","nm":420,"abs":0.865},{"series":"Before","nm":423,"abs":0.858},{"series":"Before","nm":427,"abs":0.845},{"series":"Before","nm":432,"abs":0.825},{"series":"Before","nm":438,"abs":0.795},{"series":"Before","nm":445,"abs":0.755},{"series":"Before","nm":452,"abs":0.71},{"series":"Before","nm":458,"abs":0.65},{"series":"Before","nm":463,"abs":0.582},{"series":"Before","nm":469,"abs":0.52},{"series":"Before","nm":474,"abs":0.455},{"series":"Before","nm":480,"abs":0.38},{"series":"Before","nm":486,"abs":0.313},{"series":"Before","nm":493,"abs":0.25},{"series":"Before","nm":500,"abs":0.20},{"series":"Before","nm":510,"abs":0.155},{"series":"Before","nm":520,"abs":0.122},{"series":"Before","nm":533,"abs":0.1},{"series":"Before","nm":548,"abs":0.086},{"series":"Before","nm":570,"abs":0.072},{"series":"Before","nm":599,"abs":0.058},{"series":"Before","nm":630,"abs":0.046},{"series":"Before","nm":667,"abs":0.034},{"series":"Before","nm":700,"abs":0.023},{"series":"Before","nm":733,"abs":0.011},
      {"series":"After","nm":300,"abs":1.6},{"series":"After","nm":320,"abs":1.25},{"series":"After","nm":330,"abs":1.05},{"series":"After","nm":336,"abs":0.96},{"series":"After","nm":341,"abs":0.9},{"series":"After","nm":344,"abs":0.837},{"series":"After","nm":349,"abs":0.77},{"series":"After","nm":353,"abs":0.71},{"series":"After","nm":357,"abs":0.65},{"series":"After","nm":361,"abs":0.596},{"series":"After","nm":366,"abs":0.55},{"series":"After","nm":372,"abs":0.511},{"series":"After","nm":378,"abs":0.505},{"series":"After","nm":384,"abs":0.511},{"series":"After","nm":391,"abs":0.54},{"series":"After","nm":398,"abs":0.568},{"series":"After","nm":405,"abs":0.59},{"series":"After","nm":412,"abs":0.61},{"series":"After","nm":419,"abs":0.618},{"series":"After","nm":426,"abs":0.618},{"series":"After","nm":433,"abs":0.605},{"series":"After","nm":440,"abs":0.589},{"series":"After","nm":448,"abs":0.572},{"series":"After","nm":455,"abs":0.554},{"series":"After","nm":462,"abs":0.52},{"series":"After","nm":469,"abs":0.483},{"series":"After","nm":476,"abs":0.435},{"series":"After","nm":483,"abs":0.384},{"series":"After","nm":490,"abs":0.345},{"series":"After","nm":497,"abs":0.313},{"series":"After","nm":505,"abs":0.275},{"series":"After","nm":514,"abs":0.235},{"series":"After","nm":525,"abs":0.205},{"series":"After","nm":537,"abs":0.178},{"series":"After","nm":550,"abs":0.155},{"series":"After","nm":565,"abs":0.136},{"series":"After","nm":580,"abs":0.122},{"series":"After","nm":599,"abs":0.108},{"series":"After","nm":625,"abs":0.093},{"series":"After","nm":650,"abs":0.079},{"series":"After","nm":690,"abs":0.061},{"series":"After","nm":733,"abs":0.044}
    ]
  },
  "columns": 3,
  "spacing": 0,
  "bounds": "flush",
  "resolve": {"scale": {"color": "independent", "strokeDash": "independent"}},
  "concat": [
    {
      "width": 320, "height": 224, "data": {"name": "p1"},
      "mark": {"type": "line", "clip": true, "strokeWidth": 2.5, "interpolate": "monotone"},
      "encoding": {
        "x": {"field": "nm", "type": "quantitative", "scale": {"domain": [300, 748], "nice": false, "zero": false}, "axis": {"values": [300,350,400,450,500,550,600,650,700], "labels": false, "title": null}},
        "y": {"field": "abs", "type": "quantitative", "scale": {"domain": [-0.05, 1.2], "nice": false, "zero": false}, "axis": {"values": [0,0.1,0.2,0.3,0.4,0.5,0.6,0.7,0.8,0.9,1.0,1.1,1.2], "labelExpr": "round(datum.value*10) % 2 == 0 ? format(datum.value, '.1f') : ''", "title": null}},
        "color": {"field": "series", "type": "nominal", "scale": {"domain": ["Before","After"], "range": ["#ff0000","#0000ff"]}, "legend": {"title": null, "orient": "none", "legendX": 132, "legendY": 5, "labelExpr": "(datum.label == 'Before' ? 'Before reduction' : 'After\u00a0\u00a0\u00a0reduction') + ' (P1)'"}},
        "strokeDash": {"field": "series", "type": "nominal", "scale": {"domain": ["Before","After"], "range": [[1,0],[12,6]]}, "legend": {"title": null, "orient": "none", "legendX": 132, "legendY": 5, "labelExpr": "(datum.label == 'Before' ? 'Before reduction' : 'After\u00a0\u00a0\u00a0reduction') + ' (P1)'"}}
      }
    },
    {
      "width": 320, "height": 224, "data": {"name": "p2"},
      "mark": {"type": "line", "clip": true, "strokeWidth": 2.5, "interpolate": "monotone"},
      "encoding": {
        "x": {"field": "nm", "type": "quantitative", "scale": {"domain": [300, 748], "nice": false, "zero": false}, "axis": {"values": [300,350,400,450,500,550,600,650,700], "labels": false, "title": null}},
        "y": {"field": "abs", "type": "quantitative", "scale": {"domain": [-0.05, 1.2], "nice": false, "zero": false}, "axis": {"values": [0,0.1,0.2,0.3,0.4,0.5,0.6,0.7,0.8,0.9,1.0,1.1,1.2], "labels": false, "title": null}},
        "color": {"field": "series", "type": "nominal", "scale": {"domain": ["Before","After"], "range": ["#ff0000","#0000ff"]}, "legend": {"title": null, "orient": "none", "legendX": 132, "legendY": 5, "labelExpr": "(datum.label == 'Before' ? 'Before reduction' : 'After\u00a0\u00a0\u00a0reduction') + ' (P2)'"}},
        "strokeDash": {"field": "series", "type": "nominal", "scale": {"domain": ["Before","After"], "range": [[1,0],[12,6]]}, "legend": {"title": null, "orient": "none", "legendX": 132, "legendY": 5, "labelExpr": "(datum.label == 'Before' ? 'Before reduction' : 'After\u00a0\u00a0\u00a0reduction') + ' (P2)'"}}
      }
    },
    {
      "width": 309, "height": 224, "data": {"name": "p3"},
      "mark": {"type": "line", "clip": true, "strokeWidth": 2.5, "interpolate": "monotone"},
      "encoding": {
        "x": {"field": "nm", "type": "quantitative", "scale": {"domain": [300, 733], "nice": false, "zero": false}, "axis": {"values": [300,350,400,450,500,550,600,650,700], "labels": false, "title": null}},
        "y": {"field": "abs", "type": "quantitative", "scale": {"domain": [-0.05, 1.2], "nice": false, "zero": false}, "axis": {"values": [0,0.1,0.2,0.3,0.4,0.5,0.6,0.7,0.8,0.9,1.0,1.1,1.2], "labels": false, "title": null}},
        "color": {"field": "series", "type": "nominal", "scale": {"domain": ["Before","After"], "range": ["#ff0000","#0000ff"]}, "legend": {"title": null, "orient": "none", "legendX": 128, "legendY": 5, "labelExpr": "(datum.label == 'Before' ? 'Before reduction' : 'After\u00a0\u00a0\u00a0reduction') + ' (P3)'"}},
        "strokeDash": {"field": "series", "type": "nominal", "scale": {"domain": ["Before","After"], "range": [[1,0],[12,6]]}, "legend": {"title": null, "orient": "none", "legendX": 128, "legendY": 5, "labelExpr": "(datum.label == 'Before' ? 'Before reduction' : 'After\u00a0\u00a0\u00a0reduction') + ' (P3)'"}}
      }
    },
    {
      "width": 320, "height": 224, "data": {"name": "p4"},
      "mark": {"type": "line", "clip": true, "strokeWidth": 2.5, "interpolate": "monotone"},
      "encoding": {
        "x": {"field": "nm", "type": "quantitative", "scale": {"domain": [300, 748], "nice": false, "zero": false}, "axis": {"values": [300,350,400,450,500,550,600,650,700], "labels": false, "title": null}},
        "y": {"field": "abs", "type": "quantitative", "scale": {"domain": [-0.05, 1.1], "nice": false, "zero": false}, "axis": {"values": [0,0.1,0.2,0.3,0.4,0.5,0.6,0.7,0.8,0.9,1.0], "labelExpr": "round(datum.value*10) % 2 == 0 ? format(datum.value, '.1f') : ''", "title": "Absorbance (a.u.)", "titleFontSize": 29.5, "titleY": 100, "titlePadding": 15}},
        "color": {"field": "series", "type": "nominal", "scale": {"domain": ["Before","After"], "range": ["#ff0000","#0000ff"]}, "legend": {"title": null, "orient": "none", "legendX": 132, "legendY": 5, "labelExpr": "(datum.label == 'Before' ? 'Before reduction' : 'After\u00a0\u00a0\u00a0reduction') + ' (P4)'"}},
        "strokeDash": {"field": "series", "type": "nominal", "scale": {"domain": ["Before","After"], "range": [[1,0],[12,6]]}, "legend": {"title": null, "orient": "none", "legendX": 132, "legendY": 5, "labelExpr": "(datum.label == 'Before' ? 'Before reduction' : 'After\u00a0\u00a0\u00a0reduction') + ' (P4)'"}}
      }
    },
    {
      "width": 320, "height": 224, "data": {"name": "p5"},
      "mark": {"type": "line", "clip": true, "strokeWidth": 2.5, "interpolate": "monotone"},
      "encoding": {
        "x": {"field": "nm", "type": "quantitative", "scale": {"domain": [300, 748], "nice": false, "zero": false}, "axis": {"values": [300,350,400,450,500,550,600,650,700], "labels": false, "title": null}},
        "y": {"field": "abs", "type": "quantitative", "scale": {"domain": [-0.05, 1.1], "nice": false, "zero": false}, "axis": {"values": [0,0.1,0.2,0.3,0.4,0.5,0.6,0.7,0.8,0.9,1.0], "labels": false, "title": null}},
        "color": {"field": "series", "type": "nominal", "scale": {"domain": ["Before","After"], "range": ["#ff3d3d","#0000ff"]}, "legend": {"title": null, "orient": "none", "legendX": 132, "legendY": 5, "labelExpr": "(datum.label == 'Before' ? 'Before reduction' : 'After\u00a0\u00a0\u00a0reduction') + ' (P5)'"}},
        "strokeDash": {"field": "series", "type": "nominal", "scale": {"domain": ["Before","After"], "range": [[1,0],[12,6]]}, "legend": {"title": null, "orient": "none", "legendX": 132, "legendY": 5, "labelExpr": "(datum.label == 'Before' ? 'Before reduction' : 'After\u00a0\u00a0\u00a0reduction') + ' (P5)'"}}
      }
    },
    {
      "width": 309, "height": 224, "data": {"name": "p6"},
      "mark": {"type": "line", "clip": true, "strokeWidth": 2.5, "interpolate": "monotone"},
      "encoding": {
        "x": {"field": "nm", "type": "quantitative", "scale": {"domain": [300, 733], "nice": false, "zero": false}, "axis": {"values": [300,350,400,450,500,550,600,650,700], "labels": false, "title": null}},
        "y": {"field": "abs", "type": "quantitative", "scale": {"domain": [-0.05, 1.1], "nice": false, "zero": false}, "axis": {"values": [0,0.1,0.2,0.3,0.4,0.5,0.6,0.7,0.8,0.9,1.0], "labels": false, "title": null}},
        "color": {"field": "series", "type": "nominal", "scale": {"domain": ["Before","After"], "range": ["#ff0000","#0000ff"]}, "legend": {"title": null, "orient": "none", "legendX": 128, "legendY": 5, "labelExpr": "(datum.label == 'Before' ? 'Before reduction' : 'After\u00a0\u00a0\u00a0reduction') + ' (P6)'"}},
        "strokeDash": {"field": "series", "type": "nominal", "scale": {"domain": ["Before","After"], "range": [[1,0],[12,6]]}, "legend": {"title": null, "orient": "none", "legendX": 128, "legendY": 5, "labelExpr": "(datum.label == 'Before' ? 'Before reduction' : 'After\u00a0\u00a0\u00a0reduction') + ' (P6)'"}}
      }
    },
    {
      "width": 320, "height": 224, "data": {"name": "p7"},
      "mark": {"type": "line", "clip": true, "strokeWidth": 2.5, "interpolate": "monotone"},
      "encoding": {
        "x": {"field": "nm", "type": "quantitative", "scale": {"domain": [300, 748], "nice": false, "zero": false}, "axis": {"values": [300,350,400,450,500,550,600,650,700], "labelExpr": "datum.value % 100 == 0 ? datum.label : ''", "title": null}},
        "y": {"field": "abs", "type": "quantitative", "scale": {"domain": [-0.05, 0.9], "nice": false, "zero": false}, "axis": {"values": [0,0.1,0.2,0.3,0.4,0.5,0.6,0.7,0.8], "labelExpr": "round(datum.value*10) % 2 == 0 ? format(datum.value, '.1f') : ''", "title": null}},
        "color": {"field": "series", "type": "nominal", "scale": {"domain": ["Before","After"], "range": ["#ff0000","#0000ff"]}, "legend": {"title": null, "orient": "none", "legendX": 132, "legendY": 5, "labelExpr": "(datum.label == 'Before' ? 'Before reduction' : 'After\u00a0\u00a0\u00a0reduction') + ' (P7)'"}},
        "strokeDash": {"field": "series", "type": "nominal", "scale": {"domain": ["Before","After"], "range": [[1,0],[12,6]]}, "legend": {"title": null, "orient": "none", "legendX": 132, "legendY": 5, "labelExpr": "(datum.label == 'Before' ? 'Before reduction' : 'After\u00a0\u00a0\u00a0reduction') + ' (P7)'"}}
      }
    },
    {
      "width": 320, "height": 224, "data": {"name": "p8"},
      "mark": {"type": "line", "clip": true, "strokeWidth": 2.5, "interpolate": "monotone"},
      "encoding": {
        "x": {"field": "nm", "type": "quantitative", "scale": {"domain": [300, 748], "nice": false, "zero": false}, "axis": {"values": [300,350,400,450,500,550,600,650,700], "labelExpr": "datum.value % 100 == 0 ? datum.label : ''", "title": "Wavelength (nm)", "titleFontSize": 27, "titleX": 144, "titlePadding": 5}},
        "y": {"field": "abs", "type": "quantitative", "scale": {"domain": [-0.05, 0.9], "nice": false, "zero": false}, "axis": {"values": [0,0.1,0.2,0.3,0.4,0.5,0.6,0.7,0.8], "labels": false, "title": null}},
        "color": {"field": "series", "type": "nominal", "scale": {"domain": ["Before","After"], "range": ["#ff0000","#0000ff"]}, "legend": {"title": null, "orient": "none", "legendX": 132, "legendY": 5, "labelExpr": "(datum.label == 'Before' ? 'Before reduction' : 'After\u00a0\u00a0\u00a0reduction') + ' (P8)'"}},
        "strokeDash": {"field": "series", "type": "nominal", "scale": {"domain": ["Before","After"], "range": [[1,0],[12,6]]}, "legend": {"title": null, "orient": "none", "legendX": 132, "legendY": 5, "labelExpr": "(datum.label == 'Before' ? 'Before reduction' : 'After\u00a0\u00a0\u00a0reduction') + ' (P8)'"}}
      }
    },
    {
      "width": 309, "height": 224, "data": {"name": "p9"},
      "mark": {"type": "line", "clip": true, "strokeWidth": 2.5, "interpolate": "monotone"},
      "encoding": {
        "x": {"field": "nm", "type": "quantitative", "scale": {"domain": [300, 733], "nice": false, "zero": false}, "axis": {"values": [300,350,400,450,500,550,600,650,700], "labelExpr": "datum.value % 100 == 0 ? datum.label : ''", "title": null}},
        "y": {"field": "abs", "type": "quantitative", "scale": {"domain": [-0.05, 0.9], "nice": false, "zero": false}, "axis": {"values": [0,0.1,0.2,0.3,0.4,0.5,0.6,0.7,0.8], "labels": false, "title": null}},
        "color": {"field": "series", "type": "nominal", "scale": {"domain": ["Before","After"], "range": ["#ff0000","#0000ff"]}, "legend": {"title": null, "orient": "none", "legendX": 128, "legendY": 5, "labelExpr": "(datum.label == 'Before' ? 'Before reduction' : 'After\u00a0\u00a0\u00a0reduction') + ' (P9)'"}},
        "strokeDash": {"field": "series", "type": "nominal", "scale": {"domain": ["Before","After"], "range": [[1,0],[12,6]]}, "legend": {"title": null, "orient": "none", "legendX": 128, "legendY": 5, "labelExpr": "(datum.label == 'Before' ? 'Before reduction' : 'After\u00a0\u00a0\u00a0reduction') + ' (P9)'"}}
      }
    }
  ]
}
